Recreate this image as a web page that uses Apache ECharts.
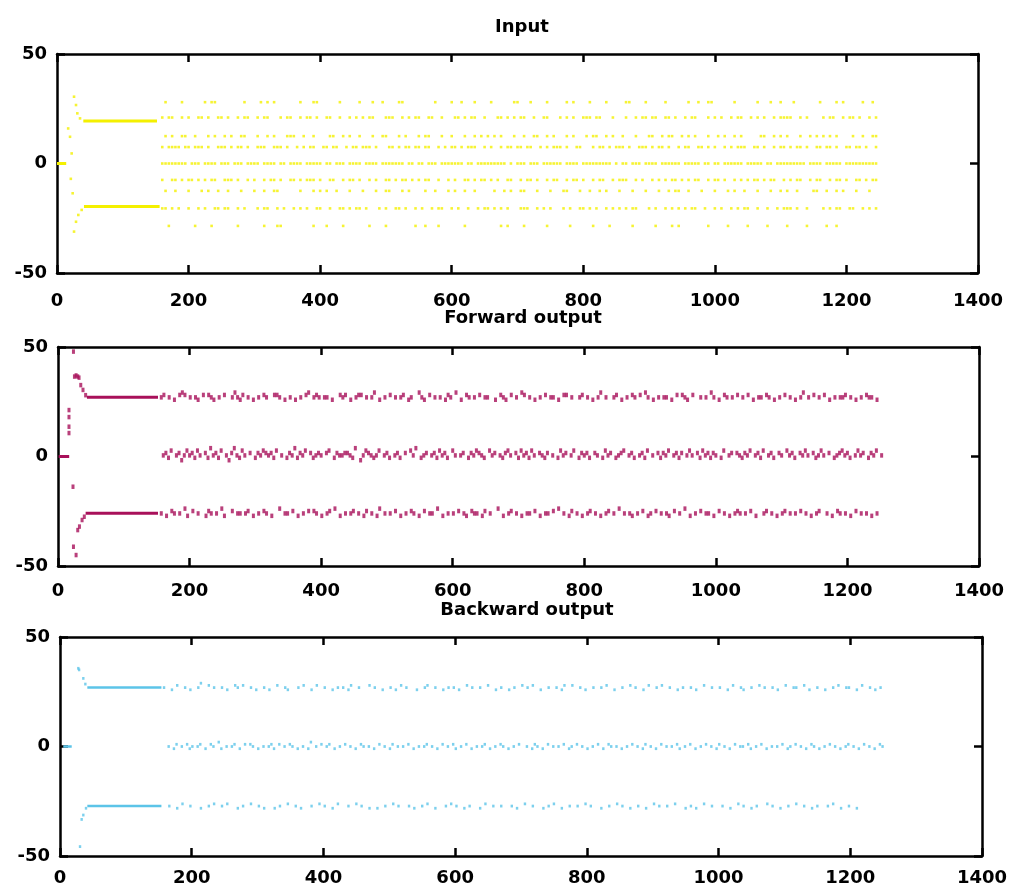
<!DOCTYPE html>
<html>
<head>
<meta charset="utf-8">
<script src="https://cdn.jsdelivr.net/npm/echarts@6/dist/echarts.min.js"></script>
<style>html,body{margin:0;padding:0;background:#fff}#c{width:1013px;height:893px}</style>
</head>
<body>
<div id="c"></div>
<script>
// ---------- data ----------
const titles = ['Input', 'Forward output', 'Backward output'];
const xTicks = [0, 200, 400, 600, 800, 1000, 1200, 1400];
const yTicks = [-50, 0, 50];

// start-up parts (x, y)
const inputZeroRun = [[0, 0], [14, 0]];
const inputUpperDots = [[17, 16], [19.8, 12.2], [22.3, 4.6], [25.9, 30.5], [28.9, 26.7], [30.9, 22.9], [35, 20.6]];
const inputUpperRun = [[40, 19.4], [152, 19.4]];
const inputLowerDots = [[21, -7], [23.8, -13.6], [25.9, -31.1], [28.9, -26.6], [32.4, -23.5], [37.5, -21.2]];
const inputLowerRun = [[41, -19.6], [156, -19.6]];

const fwdZeroRun = [[1, 0], [17, 0]];
const fwdUpperDots = [[16.7, 21.2], [16.7, 18], [16.7, 13.6], [16.7, 10.7], [23.5, 47.9], [25, 36.5], [27.5, 37], [30, 36.5], [32, 36], [34.6, 32.6], [38, 30.4], [42, 28]];
const fwdUpperRun = [[44, 27], [152, 27]];
const fwdLowerDots = [[22.8, -13.8], [23.5, -41.2], [27.5, -45], [30, -33.6], [32.6, -32], [36.6, -29], [40, -27.5]];
const fwdLowerRun = [[42, -25.9], [152, -25.9]];

const bwdZeroRun = [[5, 0], [17.8, 0]];
const bwdUpperDots = [[27.8, 35.7], [29, 35], [35.4, 31.1], [38.5, 28.5]];
const bwdUpperRun = [[41.5, 26.9], [154, 26.9]];
const bwdLowerDots = [[30.4, -45.7], [32.9, -33.3], [35.4, -31.3], [39.5, -28.2]];
const bwdLowerRun = [[41.5, -27.2], [154, -27.2]];

// steady-state bands: one character per step of x, '.' = no dot
// input: 'o' = dot on the level (step 5)
const inputStartX = 160;
const inputStep = 5;
const inputLevels = [28, 21, 12.5, 7.5, 0, -7.5, -12.5, -20.5, -28.5];
const inputBands = [
  ".o....o... ...o.oo... .....o.... o.o.o..... ..o...oo.. ....o..... o...o..o.. ..oo...... ...o....o. .o...o.... o......oo. ..o....o.. ...o.o.... o....o.... .oo....o.. ...o...... o..o..oo.. ....o..... .o...o..o. ..o....... o....o.o.. ...o..o.",
  "o.oo..o.o. .oo.o..oo. o..o.oo..o .oo...o.oo ..o.oo.o.. oo..o..o.o .o.oo...oo o..o.o.oo. .oo..o...o o.o.oo..o. ..oo.o.o.o o..o..oo.. .o.o.o..oo o.oo...o.. .o..o.oo.o o..oo.o..o .oo...o.o. o..o.oo..o .o.o..o.oo oo..o.o... .o.oo..o.o o.o..o.o",
  ".o.o..oo.. o...o.o..o .o..oo...o ..o.o...oo o..o..o... .oo..o.o.. o...o..oo. ..o.o...o. oo...o..o. ..o..o.o.o .o.o...o.. o..oo..o.o ...o.o...o .oo..o.o.. o...o...oo ..o.oo..o. o.o...o..o .o..o.o... ..oo..o.o. o...o..o.o .o.o.o.... o..o..oo.o",
  "o.oooo.oo. ooo.o..ooo .o.oo.o..o oo..ooo.o. .o.o.oo..o o.oo..o.oo .ooo.o...o o.o.oo.oo. oo..o.o.oo .o.ooo..o. o..o.oo.oo .oo..o.o.o oo.o..oo.. .o.oo.o.oo o.o..ooo.o .oo.o..o.o o..oo.o.o. .o.o.ooo.. oo.o..o.oo .o.oo.o..o o.oo.o..oo .oo.o..o",
  "oooooooo.o oo.oooo.oo o.ooo.oooo .oooo.oo.o ooo.ooooo. oo.ooo.ooo o.oooo.ooo oooo.oo.oo .ooo.ooooo oo.oo.oooo ooooo.o.oo o.ooo.oooo oo.oooo.oo ooooooo.o. oo.ooo.ooo o.oooooo.o oooo.oo.oo .oooooo.oo ooo.oo.ooo oooooo.ooo o.ooooo.oo oooooooo",
  "o..oo.o.oo .o.o.oo..o oo.o..o.o. .o.oo.o..o o.o.ooo.o. .oo..o.oo. o..o.o..oo .o.oo.o.o. oo..o..o.o ..oo.o.oo. o.o..oo..o .oo.o..o.o o..o.oo.o. .o.oo..o.o oo..o.o..o .o.o.oo.o. o.oo..o.oo .o..o.o.o. oo.o.oo..o .o.oo..o.o o..o.oo.o. .oo.o.oo",
  ".o..o...o. ..o.o..o.. o...o...o. .o..oo.... ..o...o.o. o..o...o.. .o...o..oo ...o.o.... o..o...o.o ..o..o.... .o..o.o..o o...o...o. ..oo...o.. o..o.o...o ...o...o.. .o..o.oo.. o...o...o. ..o.o..o.. .o...o..o. o..o....oo ..o..o.o.. .o...o..",
  "oo.o.o..o. .o.o..oo.o o..o.o...o .oo..o.o.. o.o.o..oo. .o..oo.o.o o.o...o.o. .oo.o..o.o ..o.oo..o. o..o..o.oo .o.o.o...o oo..o.o.o. ..o.o..oo. o.o..o.o.o .o.oo...o. o..o.o.o.o .oo..o..o. o..o.o.oo. .o..o..o.o oo.o..o... .o.o.oo..o o..o.o.o",
  "..o....... o....o.... ...o...... .o...oo... ......o... o....o.... ...o....o. .......o.. o...o..... ..o....... ...o.o.... o......o.. ....o..... .o....o... ...o...... o....o.o.. ......o... ..o.....o. ....o..... o.....o... ..o..o.. "
];

// outputs: digit d = dot at level + (d-3)*unit (step 4)
const outStep = 4;
const fwdStartX = [157, 160, 157];
const fwdLevels = [27, 0.5, -26];
const fwdBands = [
  "34.3.2.454 .3.32.4.43 2.3.4..353 24.3.2.3.4 3..443.2.3 .2.3.45.34 3.33.2..43 4.2.344.3. 35.2.3.4.3 .34.23..53 2.4.3.3.24 3.5.2.43.3 .4.33..2.4 32.4.3.54. 3.2.3.4.33 .2.44.3..3 4.3.2.35.3 ..34.2.3.4 3.4.53.2.3 .33.2.4.43 2.4..3.3.5 3.2.43.3.4 .3.4.2.33. 43.2.3.4.3 .2.35.3.4. 3.4.2.3.33 4.3.2.3.43 3.2.",
  "3425.34135 34253.4263 425.314632 53.4.24354 3425.3.243 62435.4234 3.45.24334 4326.13543 235.342.34 2.4.536.23 4.3425342. 53.34.2435 432.534.32 453.425342 53.4324.3. 2534.35.24 342.43.253 4.2345.342 .3425.3.42 435.3424.3 53.4253424 3.25.34.43 2435.3425. 342.43.534 2.4353.423 53.4.23453 42.3534.24 35.3",
  "3.2.43.3.5 2.4.3..243 .3.52..4.3 3.34.2.3.4 3.2..5.33. 4.2.3.4.43 .2.34.5.2. 3.34.3.24. 3.25.3.3.4 .2.3.43.2. 4.33.5.2.3 .3.4.32.43 3.24.3..5. 2.34.3.2.3 3.4.2.33.4 .5.3.24.3. 2.34.3.2.3 4.3.5.3.32 .3.4.23.4. 3.32.4.3.5 .2.3.4.33. 2.4.3.2.34 3.3.4.2..3 4.3.2.34.3 .3.4.3.2.3 4..3.2.43. 3.2.4.3.3. 2.3."
];
const bwdStartX = [158, 165, 158];
const bwdLevels = [26.9, 0, -27.2];
const bwdBands = [
  "3..2.4..3. 2..35..4.3 ..3.2..43. 4..3.2..3. 2..4..32.. .3.4..2.4. .3..2.3.3. 24..3...4. 3..2..3.2. 4.3...2..3 4..3..2.3. 3.2..4.3.. 3..4..2.3. .2.3..4.3. 4..2..3..3 .24..4..3. 2..3..3.4. .2..3..4.3 ..2.4..3.4 ..3..2.3.. 3.2..4..3. .3..2.4..3 2..3..4.3. .3.2..4..3 3..4.2..3. .2..3.4..3 3..2.4..3. 2.3.",
  "3.24.3.423 .34.2.43.5 2.3.34.2.4 .43.2.3.34 2.4.3.43.2 .3.25.3.4. 34.2.3.4.3 .2.43.3.2. 4.3.24.3.3 .4.2.3.34. 3.2.4.3.42 .3.4.2.3.3 4.2.3.43.2 .3.4..3.24 3.2.4.3.3. 4.23.4.3.2 .3.4.2.43. 3.2.3.4.3. 24.3.2.4.3 .3.42.3.4. 2.3.4.3.24 .3.2.4.33. 42.3.4.2.3 .3.4.23.4. 3.2.43.2.3 .4.3.2.34. 3.2.4.3.2. 43",
  "..3..2.4.. 3...2..3.4 ..3.4...2. 3..4..3.2. ..2.3..4.. 3.2...3..4 .3..2.4... 3..4.3..2. .2..3..4.3 ...3.2..3. 4..2...3.4 .3..2.3... 2.4..3..3. ..3.2..4.. 3...2.3.4. .2..3..3.. 4.3...2..3 ..4.3..2.. 3..2..4.3. .3..4...2. 3.2..4..3. ..3..2..4. 3..2.3...4 .3..2..3.. 4..3..2.3. ..3.4..2.. 3..2"
];

// ---------- build ----------
function decode(str, x0, step, level, unit) {
  const s = str.replace(/ /g, '');
  const pts = [];
  for (let i = 0; i < s.length; i++) {
    const c = s[i];
    if (c === '.') continue;
    const x = x0 + i * step;
    if (x > 1252) break;
    const off = (c === 'o') ? 0 : (parseInt(c, 10) - 3) * unit;
    pts.push([x, level + off]);
  }
  return pts;
}
let inputSteady = [];
inputBands.forEach((b, k) => { inputSteady = inputSteady.concat(decode(b, inputStartX, inputStep, inputLevels[k], 0)); });
let fwdSteady = [];
fwdBands.forEach((b, k) => { fwdSteady = fwdSteady.concat(decode(b, fwdStartX[k], outStep, fwdLevels[k], 1.1)); });
let bwdSteady = [];
bwdBands.forEach((b, k) => { bwdSteady = bwdSteady.concat(decode(b, bwdStartX[k], outStep, bwdLevels[k], 1.0)); });

const grids = [
  { left: 57, top: 54, width: 921, height: 219 },
  { left: 58, top: 347, width: 921, height: 219 },
  { left: 60, top: 637, width: 922, height: 219 }
];
const xMargins = [19, 16, 13];
const titleTops = [13, 304, 596];
const titleLefts = [517, 518, 522];

const FONT = 'DejaVu Sans';
const axisLine = { show: true, onZero: false, lineStyle: { color: '#000', width: 2.5 } };
const tick = { show: true, inside: true, length: 8, lineStyle: { color: '#000', width: 2.5 } };
const fmt = (v) => String(v);

const xAxis = [], yAxis = [];
grids.forEach((g, i) => {
  [ 'bottom', 'top' ].forEach((pos) => {
    xAxis.push({
      gridIndex: i, type: 'value', position: pos, min: xTicks[0], max: xTicks[xTicks.length - 1],
      interval: xTicks[1] - xTicks[0],
      axisLine, axisTick: tick, splitLine: { show: false },
      axisLabel: { show: pos === 'bottom', formatter: fmt, margin: xMargins[i], color: '#000', fontFamily: FONT, fontWeight: 'bold', fontSize: 18 }
    });
  });
  [ 'left', 'right' ].forEach((pos) => {
    yAxis.push({
      gridIndex: i, type: 'value', position: pos, min: yTicks[0], max: yTicks[yTicks.length - 1],
      interval: yTicks[1] - yTicks[0],
      axisLine, axisTick: tick, splitLine: { show: false },
      axisLabel: { show: pos === 'left', formatter: fmt, margin: 10, color: '#000', fontFamily: FONT, fontWeight: 'bold', fontSize: 18 }
    });
  });
});

const colors = ['#f4f000', '#a8105a', '#5cc4e8'];
const sizes = [[2.6, 2.6], [3, 4.5], [2.4, 2.8]];
const groups = [
  { runs: [inputZeroRun, inputUpperRun, inputLowerRun], dots: inputUpperDots.concat(inputLowerDots).concat(inputSteady) },
  { runs: [fwdZeroRun, fwdUpperRun, fwdLowerRun], dots: fwdUpperDots.concat(fwdLowerDots).concat(fwdSteady) },
  { runs: [bwdZeroRun, bwdUpperRun, bwdLowerRun], dots: bwdUpperDots.concat(bwdLowerDots).concat(bwdSteady) }
];
const series = [];
groups.forEach((g, i) => {
  g.runs.forEach((r) => {
    series.push({ type: 'line', xAxisIndex: 2 * i, yAxisIndex: 2 * i, data: r, showSymbol: false, silent: true,
      lineStyle: { color: colors[i], width: i === 2 ? 2.5 : 3 } });
  });
  series.push({ type: 'scatter', xAxisIndex: 2 * i, yAxisIndex: 2 * i, data: g.dots, symbol: 'rect',
    symbolSize: sizes[i], itemStyle: { color: colors[i] }, silent: true });
});

const chart = echarts.init(document.getElementById('c'), null, { renderer: 'canvas' });
chart.setOption({
  animation: false,
  backgroundColor: '#fff',
  title: titles.map((t, i) => ({ text: t, left: titleLefts[i], top: titleTops[i], textAlign: 'center',
    textStyle: { fontFamily: FONT, fontWeight: 'bold', fontSize: 18, color: '#000' } })),
  grid: grids,
  xAxis, yAxis, series
});
</script>
</body>
</html>
